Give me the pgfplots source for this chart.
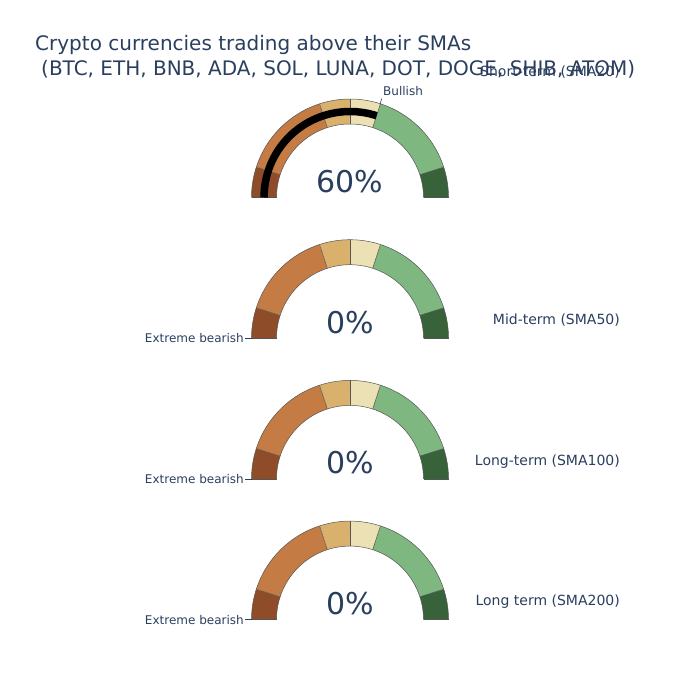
\documentclass[border=0pt]{standalone}
\usepackage{pgfplots}
\pgfplotsset{compat=1.18}
\usepackage{fontspec}
\setmainfont{DejaVu Sans}
\definecolor{txt}{HTML}{2A3F5F}
\definecolor{edge}{HTML}{555555}
\definecolor{s1}{HTML}{8E4C28}
\definecolor{s2}{HTML}{C47C44}
\definecolor{s3}{HTML}{DAB16C}
\definecolor{s4}{HTML}{ECE0B5}
\definecolor{s5}{HTML}{7FB780}
\definecolor{s6}{HTML}{38623A}
% #1 = baseline y of gauge, #2 = start, #3 = end, #4 = colour
\newcommand\seg[4]{\addplot[draw=#4, line width=25pt, domain=#2:#3, samples=40, variable=\tt]
  ({350+86*cos(180-1.8*\tt)},{#1-86*sin(180-1.8*\tt)});}
\newcommand\arcline[2]{\addplot[draw=edge, line width=0.5pt, domain=0:100, samples=120, variable=\tt]
  ({350+#2*cos(180-1.8*\tt)},{#1-#2*sin(180-1.8*\tt)});}
\newcommand\sep[2]{\addplot[draw=edge, line width=0.5pt, domain=73.5:98.5, samples=2, variable=\myr]
  ({350+\myr*cos(180-1.8*#2)},{#1-\myr*sin(180-1.8*#2)});}
% #1 = baseline y, #2 = number baseline y, #3 = value
\newcommand\gauge[3]{%
  \seg{#1}{0}{10}{s1}\seg{#1}{10}{40}{s2}\seg{#1}{40}{50}{s3}%
  \seg{#1}{50}{60}{s4}\seg{#1}{60}{90}{s5}\seg{#1}{90}{100}{s6}%
  \arcline{#1}{98.5}\arcline{#1}{73.5}%
  \sep{#1}{0}\sep{#1}{10}\sep{#1}{40}\sep{#1}{50}\sep{#1}{60}\sep{#1}{90}\sep{#1}{100}%
  \node[anchor=base, inner sep=0pt, text=txt, font=\fontsize{30}{36}\selectfont] at (axis cs:350,#2) {#3\%};
}
\begin{document}
\begin{tikzpicture}
\begin{axis}[scale only axis, width=700pt, height=700pt,
  xmin=0, xmax=700, ymin=0, ymax=700, y dir=reverse,
  hide axis, clip=false]
\path (rel axis cs:0,0) rectangle (rel axis cs:1,1);
% title
\node[anchor=base west, inner sep=0pt, text=txt, font=\fontsize{20}{24}\selectfont] at (axis cs:35,51) {Crypto currencies trading above their SMAs};
\node[anchor=base west, inner sep=0pt, text=txt, font=\fontsize{20}{24}\selectfont] at (axis cs:41,75.5) {(BTC, ETH, BNB, ADA, SOL, LUNA, DOT, DOGE, SHIB, ATOM)};
% gauges
\gauge{197.5}{193}{60}
\addplot[black, line width=7.5pt, domain=0:60, samples=40, variable=\tt]
  ({350+86*cos(180-1.8*\tt)},{197.5-86*sin(180-1.8*\tt)});
\gauge{338.2}{333}{0}
\gauge{478.9}{473.7}{0}
\gauge{619.6}{614.4}{0}
% right labels
\node[anchor=base east, inner sep=0pt, text=txt, font=\fontsize{14}{17}\selectfont] at (axis cs:620,77) {Short-term (SMA20)};
\node[anchor=base east, inner sep=0pt, text=txt, font=\fontsize{14}{17}\selectfont] at (axis cs:620,324.5) {Mid-term (SMA50)};
\node[anchor=base east, inner sep=0pt, text=txt, font=\fontsize{14}{17}\selectfont] at (axis cs:620,465) {Long-term (SMA100)};
\node[anchor=base east, inner sep=0pt, text=txt, font=\fontsize{14}{17}\selectfont] at (axis cs:620,605) {Long term (SMA200)};
% annotations
\node[anchor=base west, text=txt, font=\fontsize{12}{14}\selectfont, inner sep=0pt] at (axis cs:383,96) {Bullish};
\draw[txt, line width=0.6pt] (axis cs:381.7,98.5) -- (axis cs:380,104.5);
\node[anchor=base east, text=txt, font=\fontsize{12}{14}\selectfont, inner sep=0pt] at (axis cs:244,342.7) {Extreme bearish};
\draw[txt, line width=0.6pt] (axis cs:245,338.2) -- (axis cs:251.5,338.2);
\node[anchor=base east, text=txt, font=\fontsize{12}{14}\selectfont, inner sep=0pt] at (axis cs:244,483.4) {Extreme bearish};
\draw[txt, line width=0.6pt] (axis cs:245,478.9) -- (axis cs:251.5,478.9);
\node[anchor=base east, text=txt, font=\fontsize{12}{14}\selectfont, inner sep=0pt] at (axis cs:244,624.1) {Extreme bearish};
\draw[txt, line width=0.6pt] (axis cs:245,619.6) -- (axis cs:251.5,619.6);
\end{axis}
\end{tikzpicture}
\end{document}
